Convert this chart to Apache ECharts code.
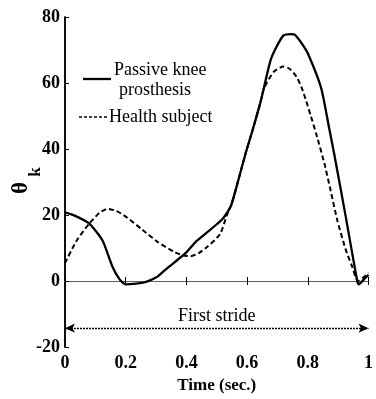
<!DOCTYPE html>
<html>
<head>
<meta charset="utf-8">
<script src="https://cdn.jsdelivr.net/npm/echarts@6/dist/echarts.min.js"></script>
<style>
html,body{margin:0;padding:0;background:#fff;}
#c{width:376px;height:399px;}
</style>
</head>
<body>
<div id="c"></div>
<script>
// ---- Data ----
var xTicks = [0, 0.2, 0.4, 0.6, 0.8, 1];
var yTicks = [-20, 0, 20, 40, 60, 80];

var prosthesisTime  = [0, 0.032, 0.08, 0.124, 0.156, 0.18, 0.2, 0.253, 0.28, 0.306, 0.328, 0.36, 0.398, 0.43, 0.468, 0.5, 0.522, 0.548, 0.575, 0.597, 0.618, 0.645, 0.677, 0.7, 0.72, 0.745, 0.758, 0.78, 0.801, 0.844, 0.87, 0.887, 0.925, 0.962, 0.968, 0.985, 1.0];
var prosthesisTheta = [20.8, 19.8, 17.4, 12.2, 4.4, 0.5, -1.0, -0.6, 0.2, 1.4, 3.2, 5.6, 8.5, 11.8, 14.7, 17.2, 19.1, 23.1, 31.9, 39.3, 45.7, 54.5, 66.8, 71.5, 74.4, 74.8, 74.6, 72.0, 68.8, 58.5, 46.5, 38.5, 19.5, 0.4, -1.0, 0.5, 1.9];

var healthyTime  = [0, 0.038, 0.08, 0.113, 0.14, 0.17, 0.199, 0.253, 0.306, 0.36, 0.387, 0.414, 0.44, 0.468, 0.511, 0.532, 0.548, 0.575, 0.597, 0.618, 0.645, 0.656, 0.688, 0.72, 0.74, 0.763, 0.78, 0.795, 0.81, 0.828, 0.855, 0.875, 0.898, 0.925, 0.946, 0.965, 0.98, 1.0];
var healthyTheta = [5.4, 12.2, 17.4, 20.6, 21.9, 21.2, 19.6, 15.7, 11.8, 8.8, 7.8, 7.5, 8.4, 10.3, 14.2, 19.6, 23.1, 31.9, 39.3, 45.7, 54.5, 58.5, 63.4, 65.0, 64.3, 61.9, 58.5, 54.5, 50.0, 44.5, 35.5, 27.5, 18.1, 9.5, 4.4, 0.0, 0.8, 2.5];

var seriesNames = ['Passive knee prosthesis', 'Health subject'];
var baselineValue = -3.7;
var strideLevel = -14.3;
var strideStart = 0, strideEnd = 1;
var strideLabel = 'First stride';
var xAxisTitle = 'Time (sec.)';

function pairs(xs, ys){ return xs.map(function(x,i){ return [x, ys[i]]; }); }

var SERIF = '"Liberation Serif","DejaVu Serif",serif';
var chart = echarts.init(document.getElementById('c'), null, {renderer:'canvas'});
chart.setOption({
  animation: false,
  backgroundColor: '#fff',
  grid: {left: 65, right: 1, top: 17, bottom: 43, containLabel: false},
  xAxis: [{
    type: 'value', min: xTicks[0], max: xTicks[xTicks.length-1], interval: 0.2,
    name: xAxisTitle, nameLocation: 'middle', nameGap: 30,
    nameTextStyle: {fontFamily: SERIF, fontWeight: 'bold', fontSize: 17, color: '#000'},
    axisLine: {show: true, lineStyle: {color: '#555', type: [1,1], width: 1}},
    axisTick: {show: true, inside: true, length: 4, lineStyle: {color: '#000'}},
    axisLabel: {fontFamily: SERIF, fontWeight: 'bold', fontSize: 18, color: '#000', margin: 7},
    splitLine: {show: false}
  },{
    type: 'value', position: 'top', min: xTicks[0], max: xTicks[xTicks.length-1], interval: 0.2,
    axisLine: {show: true, lineStyle: {color: '#555', type: [1,1], width: 1}},
    axisTick: {show: true, inside: true, length: 4, lineStyle: {color: '#000'}},
    axisLabel: {show: false},
    splitLine: {show: false}
  }],
  yAxis: [{
    type: 'value', min: yTicks[0], max: yTicks[yTicks.length-1], interval: 20,
    axisLine: {show: true, lineStyle: {color: '#000', width: 1.5}},
    axisTick: {show: true, inside: true, length: 4, lineStyle: {color: '#000'}},
    axisLabel: {fontFamily: SERIF, fontWeight: 'bold', fontSize: 18, color: '#000', margin: 5},
    splitLine: {show: false}
  },{
    type: 'value', position: 'right', min: yTicks[0], max: yTicks[yTicks.length-1], interval: 20,
    axisLine: {show: true, lineStyle: {color: '#000', width: 1.5}},
    axisTick: {show: false}, axisLabel: {show: false}, splitLine: {show: false}
  }],
  series: [{
    name: seriesNames[0], type: 'line', data: pairs(prosthesisTime, prosthesisTheta),
    symbol: 'none', smooth: 0.2,
    lineStyle: {color: '#000', width: 2.3},
    markLine: {
      silent: true, animation: false,
      data: [
        [{yAxis: baselineValue, symbol: 'none', lineStyle: {color: '#000', width: 2, type: 'solid'}, label: {show: false}},
         {yAxis: baselineValue, symbol: 'none'}],
        [{coord: [strideStart, strideLevel], symbol: 'arrow', symbolSize: [7, 10],
          lineStyle: {color: '#000', width: 1.3, type: [2,1]},
          label: {show: true, position: 'middle', formatter: strideLabel, fontFamily: SERIF, fontSize: 18, color: '#000', distance: 3}},
         {coord: [strideEnd, strideLevel], symbol: 'arrow', symbolSize: [7, 10]}]
      ]
    }
  },{
    name: seriesNames[1], type: 'line', data: pairs(healthyTime, healthyTheta),
    symbol: 'none', smooth: 0.2,
    lineStyle: {color: '#000', width: 2, type: [5, 3]}
  }],
  graphic: [
    {type: 'line', shape: {x1: 83, y1: 79, x2: 111, y2: 79}, style: {stroke: '#000', lineWidth: 2.3}},
    {type: 'text', x: 114, y: 70, style: {text: 'Passive knee', font: '18px ' + SERIF, fill: '#000', textVerticalAlign: 'middle', verticalAlign: 'middle'}},
    {type: 'text', x: 119, y: 90, style: {text: 'prosthesis', font: '18px ' + SERIF, fill: '#000', textVerticalAlign: 'middle', verticalAlign: 'middle'}},
    {type: 'line', shape: {x1: 79, y1: 117, x2: 107, y2: 117}, style: {stroke: '#000', lineWidth: 1.5, lineDash: [3, 2]}},
    {type: 'text', x: 109, y: 117, style: {text: 'Health subject', font: '18px ' + SERIF, fill: '#000', textVerticalAlign: 'middle', verticalAlign: 'middle'}},
    {type: 'text', x: 21, y: 188, rotation: Math.PI/2, style: {text: 'θ', font: 'bold 23px ' + SERIF, fill: '#000', align: 'center', verticalAlign: 'middle', textAlign: 'center', textVerticalAlign: 'middle'}},
    {type: 'text', x: 36, y: 172, rotation: Math.PI/2, style: {text: 'k', font: 'bold 17px ' + SERIF, fill: '#000', align: 'center', verticalAlign: 'middle', textAlign: 'center', textVerticalAlign: 'middle'}}
  ]
});
</script>
</body>
</html>
